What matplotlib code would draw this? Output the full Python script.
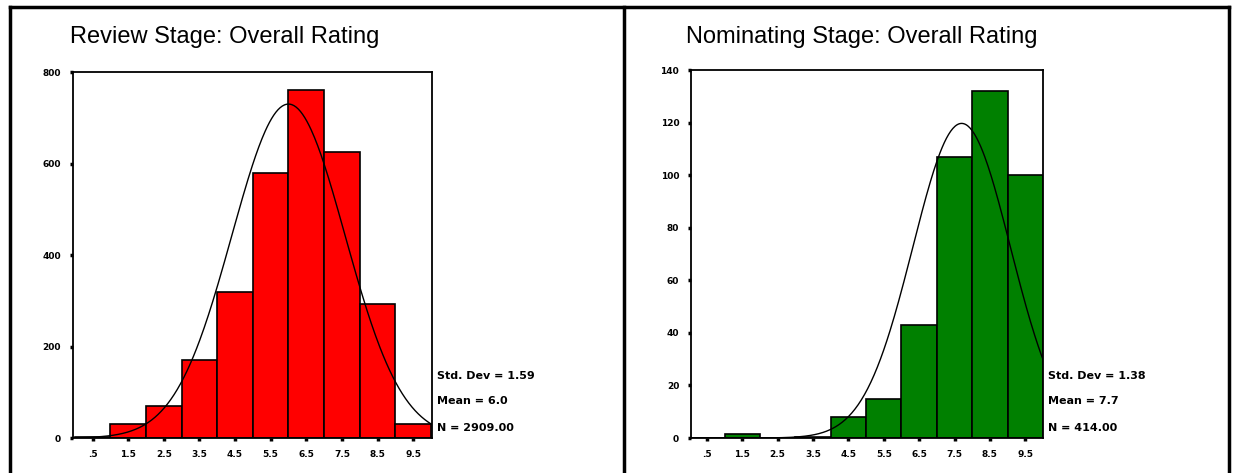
import numpy as np
import matplotlib.pyplot as plt
from matplotlib.lines import Line2D

plt.rcParams['font.family'] = ['Liberation Sans', 'DejaVu Sans']

# bin centres shared by both histograms
bins = [0.5, 1.5, 2.5, 3.5, 4.5, 5.5, 6.5, 7.5, 8.5, 9.5]
tick_labels = [".5", "1.5", "2.5", "3.5", "4.5", "5.5", "6.5", "7.5", "8.5", "9.5"]

# review stage counts
review_counts = [3, 30, 70, 170, 320, 580, 760, 625, 292, 30]
review_sd, review_mean, review_n = 1.59, 6.0, 2909.00

# nominating stage counts
nom_counts = [0, 1.5, 0, 0.5, 8, 15, 43, 107, 132, 100]
nom_sd, nom_mean, nom_n = 1.38, 7.7, 414.00


def draw_panel(rect, counts, color, sd, mean, n, yticks, ymax, xlim, title, title_x, stats_x):
    ax = fig.add_axes(rect)
    ax.bar(bins, counts, width=1.0, color=color, edgecolor='black', linewidth=1.2)
    # fitted normal curve from the stats shown on the chart
    xs = np.linspace(-1, 11, 400)
    ys = n / (sd * np.sqrt(2 * np.pi)) * np.exp(-0.5 * ((xs - mean) / sd) ** 2)
    ax.plot(xs, ys, color='black', linewidth=1.0)
    ax.set_xlim(*xlim)
    ax.set_ylim(0, ymax)
    ax.set_xticks(bins)
    ax.set_xticklabels(tick_labels)
    ax.set_yticks(yticks)
    ax.tick_params(axis='both', length=2.5, width=2.5, labelsize=6.5, pad=6)
    for lab in ax.get_xticklabels() + ax.get_yticklabels():
        lab.set_fontweight('bold')
        lab.set_family('DejaVu Sans')
    for sp in ax.spines.values():
        sp.set_linewidth(1.3)
    fig.text(title_x, 1 - 37 / 473, title, fontsize=17, ha='left', va='center')
    for txt, yy in zip(["Std. Dev = %.2f" % sd, "Mean = %.1f" % mean, "N = %.2f" % n],
                       [376, 401, 428]):
        fig.text(stats_x, 1 - yy / 473, txt, fontsize=8, fontweight='bold',
                 family='DejaVu Sans', ha='left', va='center')
    return ax


fig = plt.figure(figsize=(12.34, 4.73), dpi=100)

draw_panel([73 / 1234, 1 - 438 / 473, (432 - 73) / 1234, (438 - 72) / 473],
           review_counts, '#ff0000', review_sd, review_mean, review_n,
           [0, 200, 400, 600, 800], 800, (-0.05, 10.03),
           "Review Stage: Overall Rating", 70 / 1234, 437 / 1234)

draw_panel([691 / 1234, 1 - 438 / 473, (1043 - 691) / 1234, (438 - 70) / 473],
           nom_counts, '#008000', nom_sd, nom_mean, nom_n,
           [0, 20, 40, 60, 80, 100, 120, 140], 140, (0.05, 10.0),
           "Nominating Stage: Overall Rating", 686 / 1234, 1048 / 1234)

# table borders around the two panels
for xa, ya, xb, yb in [(10, 7, 1229, 7), (10, 7, 10, 473), (624, 7, 624, 473), (1229, 7, 1229, 473)]:
    fig.add_artist(Line2D([xa / 1234, xb / 1234], [1 - ya / 473, 1 - yb / 473],
                          transform=fig.transFigure, color='black', linewidth=2.5))

fig.savefig("out.png", dpi=100)
